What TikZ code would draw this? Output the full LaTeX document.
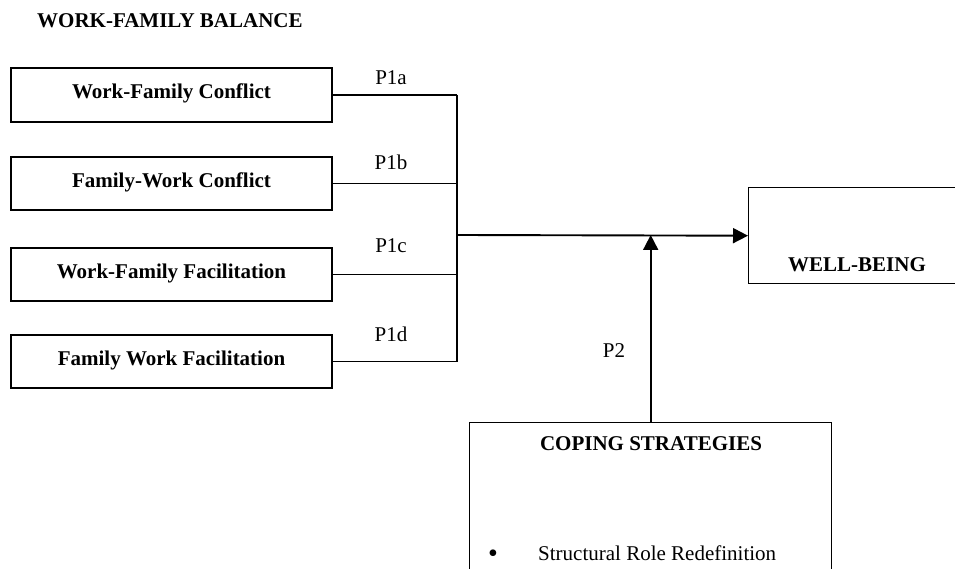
\documentclass[tikz,border=0pt]{standalone}
\usepackage{fontspec}
\setmainfont{Liberation Serif}
\usetikzlibrary{arrows.meta}
\begin{document}
\begin{tikzpicture}[x=1pt,y=-1pt,
  every node/.style={font=\fontsize{21}{25}\selectfont, inner sep=0pt},
  boxnode/.style={draw, line width=1.4pt, minimum width=321pt, minimum height=53pt,
     text height=14pt, text depth=6pt, font=\fontsize{21}{25}\selectfont\bfseries},
  openbox/.style={draw, line width=1.4pt, anchor=north west},
  branch/.style={line width=1.1pt},
  bar/.style={line width=1.4pt},
  mainarr/.style={line width=1.9pt, -{Triangle[length=15pt,width=15pt]}},
  plabel/.style={anchor=base}
]
\useasboundingbox (0,0) rectangle (955,569);
\clip (0,0) rectangle (955,569);

\node[anchor=base west, font=\fontsize{21}{25}\selectfont\bfseries] (title) at (37,28) {WORK-FAMILY BALANCE};

\node[boxnode, minimum height=54pt] (b1) at (171.5,95) {Work-Family Conflict};
\node[boxnode] (b2) at (171.5,183.5) {Family-Work Conflict};
\node[boxnode] (b3) at (171.5,274.5) {Work-Family Facilitation};
\node[boxnode] (b4) at (171.5,361.5) {Family Work Facilitation};

\coordinate (j) at (457,235);

\draw[branch] (b1.east) -- (b1.east -| j);
\draw[branch] (b2.east) -- (b2.east -| j);
\draw[branch] (b3.east) -- (b3.east -| j);
\draw[branch] (b4.east) -- (b4.east -| j);
\draw[bar] (b1.east -| j) -- (b4.east -| j);

\node[plabel] (p1a) at (391,85) {P1a};
\node[plabel] (p1b) at (391,170) {P1b};
\node[plabel] (p1c) at (391,252) {P1c};
\node[plabel] (p1d) at (391,341) {P1d};

\node[openbox, minimum width=240pt, minimum height=96pt] (wb) at (748,187) {};
\node[anchor=base, font=\fontsize{21}{25}\selectfont\bfseries] (wbt) at (857,272) {WELL-BEING};

\node[openbox, minimum width=362pt, minimum height=200pt] (cope) at (469,422) {};
\node[anchor=base, font=\fontsize{21}{25}\selectfont\bfseries] (copet) at (651,450) {COPING STRATEGIES};
\node[anchor=base, font=\fontsize{28}{28}\selectfont] (bul) at (493,562) {•};
\node[anchor=base west] (s1) at (538,560) {Structural Role Redefinition};

\draw[mainarr] (j) -- (wb.west);
\draw[mainarr] (cope.north) -- (cope.north |- j);

\node[plabel] (p2) at (614,357) {P2};
\end{tikzpicture}
\end{document}
